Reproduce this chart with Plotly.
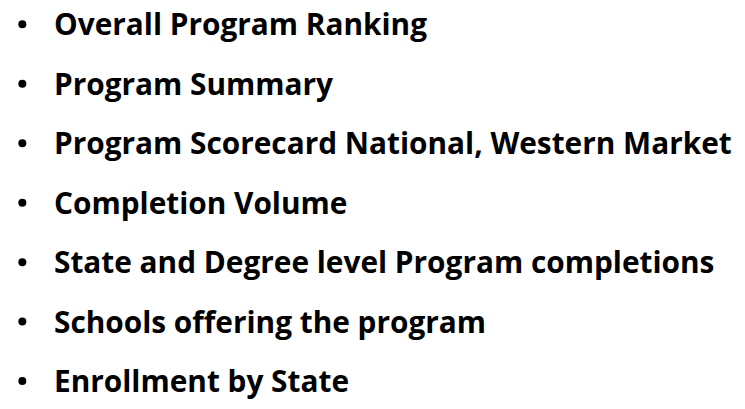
import plotly.graph_objects as go

items = [
    "Overall Program Ranking",
    "Program Summary",
    "Program Scorecard National, Western Market",
    "Completion Volume",
    "State and Degree level Program completions",
    "Schools offering the program",
    "Enrollment by State",
]

# page is rendered with an 8px body margin; map axes to page pixels
PAGE_W, PAGE_H, OFF = 745, 409, 8
top, step = 24.5, 60.7
ys = [top + i * step for i in range(len(items))]

fig = go.Figure()
fig.add_trace(go.Scatter(
    x=[22.5] * len(items), y=ys, mode="markers",
    marker=dict(color="black", size=8, symbol="circle"),
    hoverinfo="skip", showlegend=False, cliponaxis=False,
))
for y, t in zip(ys, items):
    fig.add_annotation(
        x=52, y=y - 0.5, xref="x", yref="y", text="<b>%s</b>" % t,
        showarrow=False, xanchor="left", yanchor="middle",
        font=dict(family="Open Sans", size=29.8, color="black"),
    )
fig.update_xaxes(range=[OFF, PAGE_W], visible=False)
fig.update_yaxes(range=[PAGE_H, OFF], visible=False)
fig.update_layout(
    width=PAGE_W - 2 * OFF, height=PAGE_H - 2 * OFF,
    margin=dict(l=0, r=0, t=0, b=0),
    paper_bgcolor="white", plot_bgcolor="white",
)
fig.write_html("out.html")
